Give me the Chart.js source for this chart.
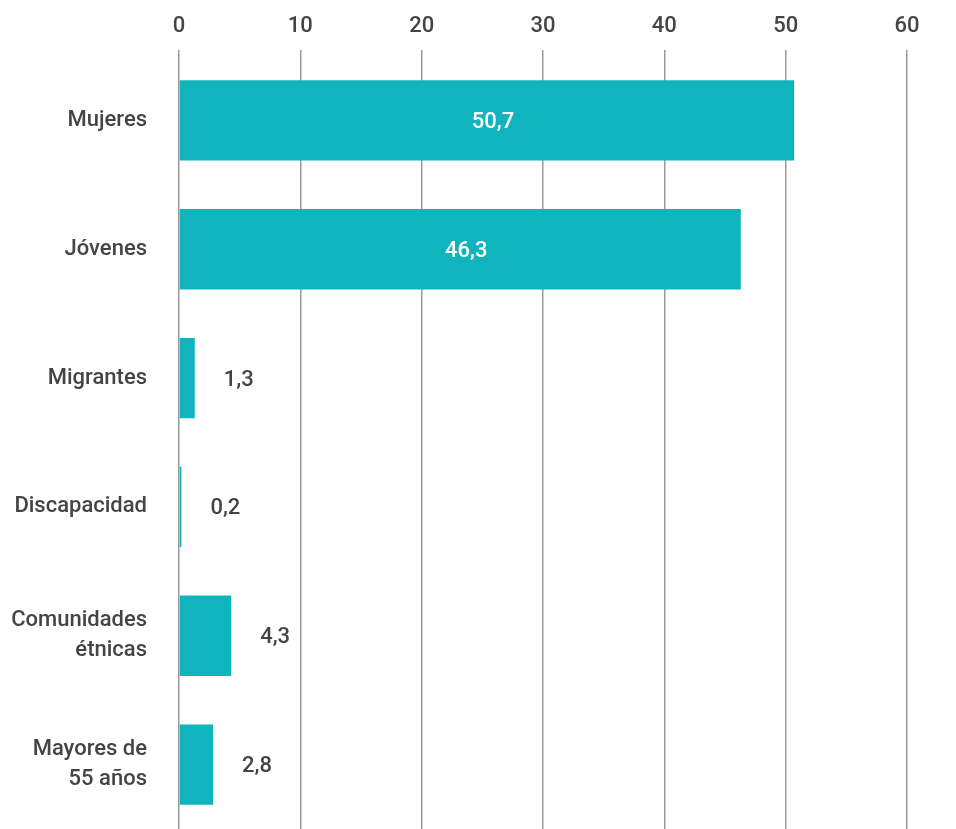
<!DOCTYPE html>
<html lang="es">
<head>
<meta charset="utf-8">
<title>Grupos poblacionales</title>
<script src="https://cdn.jsdelivr.net/npm/chart.js@4"></script>
<style>
  html, body { margin: 0; padding: 0; background: #fff; }
  #wrap { width: 956px; height: 829px; position: relative; }
</style>
</head>
<body>
<div id="wrap"><canvas id="chart"></canvas></div>
<script>
// categories and values (%)
const categories = [
  'Mujeres',
  'Jóvenes',
  'Migrantes',
  'Discapacidad',
  ['Comunidades', 'étnicas'],
  ['Mayores de', '55 años']
];
const values = [50.7, 46.3, 1.3, 0.2, 4.3, 2.8];
const xTicks = [0, 10, 20, 30, 40, 50, 60];

const TEAL = '#0fb4bc';
const TEXT = '#444444';
const FONT = { family: 'Roboto, sans-serif', size: 22, weight: '500' };

const fmt = v => v.toFixed(1).replace('.', ',');

// value labels: inside the long bars, to the right of the short ones
const valueLabels = {
  id: 'valueLabels',
  afterDatasetsDraw(chart) {
    const ctx = chart.ctx;
    const meta = chart.getDatasetMeta(0);
    ctx.save();
    ctx.font = `${FONT.weight} ${FONT.size}px ${FONT.family}`;
    ctx.textBaseline = 'middle';
    meta.data.forEach((bar, i) => {
      const v = values[i];
      if (v > 20) {
        ctx.fillStyle = '#ffffff';
        ctx.textAlign = 'center';
        ctx.fillText(fmt(v), (bar.x + bar.base) / 2 + 6, bar.y + 2);
      } else {
        ctx.fillStyle = TEXT;
        ctx.textAlign = 'left';
        ctx.fillText(fmt(v), bar.x + 29, bar.y + 2);
      }
    });
    ctx.restore();
  }
};

new Chart(document.getElementById('chart'), {
  type: 'bar',
  data: {
    labels: categories,
    datasets: [{
      data: values,
      backgroundColor: TEAL,
      borderWidth: 0,
      barPercentage: 0.78,
      categoryPercentage: 0.8
    }]
  },
  options: {
    indexAxis: 'y',
    responsive: true,
    maintainAspectRatio: false,
    animation: false,
    layout: { autoPadding: false, padding: { left: 0, right: 49, top: 0, bottom: 0 } },
    plugins: {
      legend: { display: false },
      tooltip: { enabled: false }
    },
    scales: {
      x: {
        position: 'top',
        min: 0,
        max: 60,
        afterBuildTicks: axis => { axis.ticks = xTicks.map(v => ({ value: v })); },
        afterFit: axis => {
          axis.height = 56;
          axis.paddingLeft = 0;
          axis.paddingRight = 0;
        },
        border: { display: false },
        grid: { color: '#9a9a9a', lineWidth: 1.5, drawTicks: true, tickLength: 6, tickColor: '#9a9a9a' },
        ticks: { color: TEXT, font: FONT, padding: 10 }
      },
      y: {
        afterFit: axis => {
          axis.width = 179;
          axis.paddingTop = 0;
          axis.paddingBottom = 0;
        },
        border: { display: false },
        grid: { display: false },
        ticks: { color: TEXT, font: { ...FONT, lineHeight: 1.36 }, padding: 24 }
      }
    }
  },
  plugins: [valueLabels]
});
</script>
</body>
</html>
